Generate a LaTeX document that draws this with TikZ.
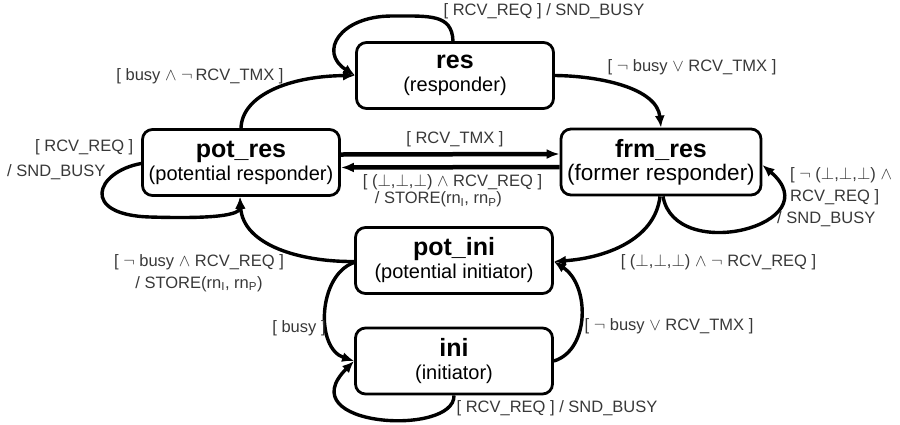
\documentclass[tikz,border=0pt]{standalone}
\usepackage{fontspec}
\setmainfont{Liberation Sans}
\usetikzlibrary{arrows.meta}
\newcommand\nm[1]{{\fontsize{25}{23}\selectfont\bfseries #1}}
\begin{document}
\begin{tikzpicture}[x=1pt,y=-1pt,
  state/.style={draw, line width=2.8pt, rounded corners=10pt, minimum width=197pt,
    minimum height=66pt, align=center, inner sep=0pt, font=\fontsize{20}{23}\selectfont},
  tr/.style={line width=3.4pt, -{Latex[length=12pt,width=10pt]}},
  trs/.style={line width=4.5pt, -{Latex[length=13pt,width=10pt]}},
  lbl/.style={font=\fontsize{16.5}{22}\selectfont, inner sep=0pt, text=black!78}
]
\useasboundingbox (0,0) rectangle (900,424);

% states
\node[state] (res) at (455,75.5) {\nm{res}\\(responder)};
\node[state] (pr)  at (241,162.5) {\nm{pot\_res}\\(potential responder)};
\node[state, minimum width=200pt] (fr) at (661,162) {\nm{frm\_res}\\{\fontsize{22.5}{23}\selectfont(former responder)}};
\node[state] (pi)  at (454,260.5) {\nm{pot\_ini}\\(potential initiator)};
\node[state] (ini) at (454,361) {\nm{ini}\\(initiator)};

% transitions
\draw[tr] (pr.north) .. controls (242,95) and (290,76) .. (res.west);
\draw[tr] ([xshift=-2pt]res.north) .. controls (452,14) and (430,16) .. (392,16)
          .. controls (340,16) and (318,52) .. (res.west);
\draw[tr] (res.east) .. controls (600,76) and (657,88) .. (fr.north);
\draw[trs] ([yshift=8pt]pr.east) -- ([yshift=8pt]fr.west);
\draw[trs] ([yshift=-5pt]fr.west) -- ([yshift=-5pt]pr.east);
\draw[tr] ([yshift=-1pt]pr.west) .. controls (95,172) and (80,215) .. (150,217)
          .. controls (215,219) and (240,215) .. ([xshift=-1pt]pr.south);
\draw[tr] ([yshift=-1pt]pi.west) .. controls (300,262) and (243,245) .. ([xshift=-1pt]pr.south);
\draw[tr] ([xshift=-1pt]fr.south) .. controls (655,240) and (605,258) .. ([yshift=-1pt]pi.east);
\draw[tr] ([xshift=2pt]fr.south) .. controls (675,265) and (832,224) .. ([yshift=-3pt]fr.east);
\draw[tr] ([yshift=-2pt]pi.west) .. controls (318,275) and (315,348) .. (ini.west);
\draw[tr] (ini.south) .. controls (455,437) and (288,427) .. (ini.west);
\draw[tr] (ini.east) .. controls (590,350) and (590,285) .. ([yshift=-1pt]pi.east);

% labels
\node[lbl] (l1) at (200,76) {[ busy $\wedge$ $\neg\,$RCV\_TMX ]};
\node[lbl] (l2) at (544,11) {[ RCV\_REQ ] / SND\_BUSY};
\node[lbl] (l3) at (692,67) {[ $\neg$ busy $\vee$ RCV\_TMX ]};
\node[lbl] (l4) at (455,139) {[ RCV\_TMX ]};
\node[lbl, align=left, font=\fontsize{16.5}{17}\selectfont] (l5) at (452.5,191)
  {[ ($\bot$,$\bot$,$\bot$) $\wedge$ RCV\_REQ ]\\\hspace*{12pt}/ STORE(rn\textsubscript{I}, rn\textsubscript{P})};
\node[lbl, align=left, anchor=west, font=\fontsize{16.5}{25}\selectfont] (l6) at (7,159.5)
  {\hspace*{28pt}[ RCV\_REQ ]\\/ SND\_BUSY};
\node[lbl, align=left, anchor=west] (l7) at (777,197)
  {\hspace*{13pt}[ $\neg$ ($\bot$,$\bot$,$\bot$) $\wedge$\\\hspace*{13pt}RCV\_REQ ]\\/ SND\_BUSY};
\node[lbl, align=center] (l8) at (199,273)
  {[ $\neg$ busy $\wedge$ RCV\_REQ ]\\/ STORE(rn\textsubscript{I}, rn\textsubscript{P})};
\node[lbl] (l9) at (718.5,262) {[ ($\bot$,$\bot$,$\bot$) $\wedge$ $\neg$ RCV\_REQ ]};
\node[lbl] (l10) at (299,328) {[ busy ]};
\node[lbl] (l11) at (669,326) {[ $\neg$ busy $\vee$ RCV\_TMX ]};
\node[lbl] (l12) at (557,408) {[ RCV\_REQ ] / SND\_BUSY};
\end{tikzpicture}
\end{document}
